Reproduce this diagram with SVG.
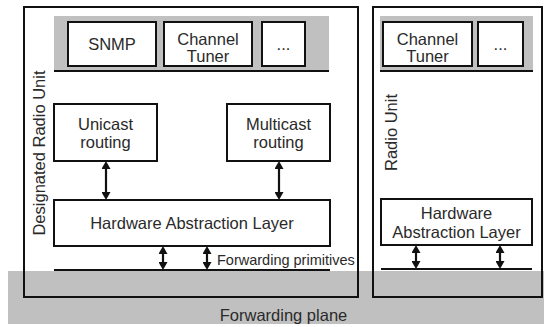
<svg xmlns="http://www.w3.org/2000/svg" width="544" height="327" viewBox="0 0 544 327">
  <defs>
    <style>
      .box { fill: #ffffff; stroke: #111111; stroke-width: 2; }
      .frame { fill: none; stroke: #111111; stroke-width: 2; }
      .band { fill: #c0c0c0; stroke: none; }
      .rule { stroke: #111111; stroke-width: 2; fill: none; }
      .conn { stroke: #111111; stroke-width: 2.2; fill: none; marker-start: url(#ah); marker-end: url(#ah); }
      text { font-family: "Liberation Sans", Arial, sans-serif; font-size: 16.5px; fill: #2a2a2a; text-anchor: middle; }
      .small { font-size: 14.5px; text-anchor: start; }
    </style>
    <marker id="ah" viewBox="0 -4.5 8 9" refX="0" refY="0" markerWidth="8" markerHeight="9" markerUnits="userSpaceOnUse" orient="auto-start-reverse">
      <path d="M0,-4.5 L8,0 L0,4.5 z" fill="#111111"/>
    </marker>
  </defs>

  <rect id="forwarding-plane" class="band" x="8" y="271" width="536" height="53"/>
  <text x="283.5" y="321">Forwarding plane</text>

  <g id="designated-radio-unit">
    <rect class="frame" x="24" y="7" width="334" height="290"/>
    <text transform="translate(45,153) rotate(-90)">Designated Radio Unit</text>
    <rect class="band" x="54" y="16" width="275" height="55"/>
    <line class="rule" x1="54" y1="71" x2="329" y2="71"/>
    <line class="rule" x1="54" y1="270" x2="330" y2="270"/>
  </g>

  <g id="snmp">
    <rect class="box" x="68" y="22" width="88" height="44"/>
    <text x="112" y="50">SNMP</text>
  </g>
  <g id="channel-tuner-1">
    <rect class="box" x="164" y="22" width="88" height="44"/>
    <text x="208" y="45">Channel</text>
    <text x="208" y="62">Tuner</text>
  </g>
  <g id="more-1">
    <rect class="box" x="262" y="22" width="43" height="44"/>
    <text x="283.5" y="50">...</text>
  </g>
  <g id="unicast-routing">
    <rect class="box" x="54" y="104" width="103" height="57"/>
    <text x="105.5" y="130">Unicast</text>
    <text x="105.5" y="148">routing</text>
  </g>
  <g id="multicast-routing">
    <rect class="box" x="227" y="104" width="103" height="57"/>
    <text x="278.5" y="130">Multicast</text>
    <text x="278.5" y="148">routing</text>
  </g>
  <g id="hal-1">
    <rect class="box" x="54" y="200" width="276" height="46"/>
    <text x="192" y="229">Hardware Abstraction Layer</text>
  </g>

  <g id="radio-unit">
    <rect class="frame" x="373" y="7" width="169" height="290"/>
    <text transform="translate(397,132.5) rotate(-90)">Radio Unit</text>
    <rect class="band" x="380" y="16" width="153" height="55"/>
    <line class="rule" x1="380" y1="71" x2="533" y2="71"/>
    <line class="rule" x1="381" y1="269" x2="532" y2="269"/>
  </g>
  <g id="channel-tuner-2">
    <rect class="box" x="383" y="22" width="89" height="44"/>
    <text x="427.5" y="45">Channel</text>
    <text x="427.5" y="62">Tuner</text>
  </g>
  <g id="more-2">
    <rect class="box" x="478" y="22" width="45" height="44"/>
    <text x="500.5" y="50">...</text>
  </g>
  <g id="hal-2">
    <rect class="box" x="381" y="199" width="151" height="46"/>
    <text x="456.5" y="219">Hardware</text>
    <text x="456.5" y="238">Abstraction Layer</text>
  </g>

  <g id="connectors">
    <line class="conn" x1="106" y1="169" x2="106" y2="192"/>
    <line class="conn" x1="279" y1="169" x2="279" y2="192"/>
    <line class="conn" x1="163" y1="254" x2="163" y2="262"/>
    <line class="conn" x1="207" y1="254" x2="207" y2="262"/>
    <line class="conn" x1="416" y1="253" x2="416" y2="261"/>
    <line class="conn" x1="500" y1="253" x2="500" y2="261"/>
    <text class="small" x="217" y="265">Forwarding primitives</text>
  </g>
</svg>
